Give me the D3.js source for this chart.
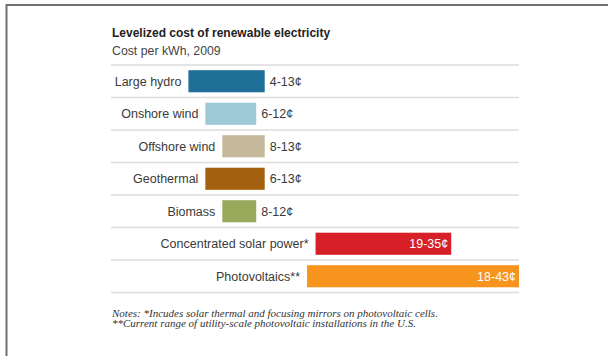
<!DOCTYPE html>
<html>
<head>
<meta charset="utf-8">
<script src="https://cdn.jsdelivr.net/npm/d3@7"></script>
<style>
  body { margin: 0; background: #fff; }
  svg { display: block; }
</style>
</head>
<body>
<svg id="chart" width="608" height="356"></svg>
<script>
const sources = ['Large hydro', 'Onshore wind', 'Offshore wind', 'Geothermal', 'Biomass', 'Concentrated solar power*', 'Photovoltaics**'];
const lowCost = [4, 6, 8, 6, 8, 19, 18];
const highCost = [13, 12, 13, 13, 12, 35, 43];
const barColors = ['#1f6f98', '#9ec8d5', '#c5b89b', '#a5600f', '#98a95b', '#d71f28', '#f7941d'];
const notes = [
  'Notes: *Incudes solar thermal and focusing mirrors on photovoltaic cells.',
  '**Current range of utility-scale photovoltaic installations in the U.S.'
];

const svg = d3.select('#chart');
const rows = sources.map((s, i) => ({ name: s, lo: lowCost[i], hi: highCost[i], color: barColors[i] }));

const x = d3.scaleLinear().domain([0, 43]).range([154.5, 519]);
const pad = 0.32;
const y = d3.scaleBand().domain(sources).range([65, 292.5]).paddingInner(pad).paddingOuter(pad / 2);
const gapTop = y.step() * pad / 2;

// frame
svg.append('line').attr('x1', 6.5).attr('x2', 608).attr('y1', 5).attr('y2', 5)
  .attr('stroke', '#6f6f6f').attr('stroke-width', 2);
svg.append('line').attr('x1', 6.5).attr('x2', 6.5).attr('y1', 4).attr('y2', 356)
  .attr('stroke', '#6f6f6f').attr('stroke-width', 2);

svg.append('text').attr('x', 112).attr('y', 37)
  .attr('font-family', 'Liberation Sans, Arial, sans-serif').attr('font-size', '12px')
  .attr('font-weight', 'bold').attr('fill', '#222')
  .text('Levelized cost of renewable electricity');
svg.append('text').attr('x', 112).attr('y', 54.5)
  .attr('font-family', 'Liberation Sans, Arial, sans-serif').attr('font-size', '12.3px')
  .attr('fill', '#444')
  .text('Cost per kWh, 2009');

// separators
const lineYs = [y(sources[0]) - gapTop].concat(sources.map(s => y(s) - gapTop + y.step()));
svg.selectAll('.sep')
  .data(lineYs)
  .enter()
  .append('line')
  .attr('class', 'sep')
  .attr('x1', 111).attr('x2', 519)
  .attr('y1', d => d).attr('y2', d => d)
  .attr('stroke', '#dcdcdc').attr('stroke-width', 1.5);

const row = svg.selectAll('.row')
  .data(rows)
  .enter()
  .append('g')
  .attr('class', 'row');

row.append('rect')
  .attr('x', d => x(d.lo))
  .attr('y', d => y(d.name))
  .attr('width', d => x(d.hi) - x(d.lo))
  .attr('height', y.bandwidth())
  .attr('fill', d => d.color);

row.append('text')
  .attr('x', d => x(d.lo) - 7)
  .attr('y', d => y(d.name) + y.bandwidth() / 2)
  .attr('dy', '0.35em')
  .attr('text-anchor', 'end')
  .attr('font-family', 'Liberation Sans, Arial, sans-serif')
  .attr('font-size', '12.5px')
  .attr('fill', '#3a3a3a')
  .text(d => d.name);

row.append('text')
  .attr('x', d => d.hi > 20 ? x(d.hi) - 3 : x(d.hi) + 5)
  .attr('y', d => y(d.name) + y.bandwidth() / 2)
  .attr('dy', '0.35em')
  .attr('text-anchor', d => d.hi > 20 ? 'end' : 'start')
  .attr('font-family', 'Liberation Sans, Arial, sans-serif')
  .attr('font-size', '12.5px')
  .attr('fill', d => d.hi > 20 ? '#fff' : '#3a3a3a')
  .text(d => d.lo + '-' + d.hi + '¢');

svg.selectAll('.note')
  .data(notes)
  .enter()
  .append('text')
  .attr('class', 'note')
  .attr('x', 112)
  .attr('y', (d, i) => 316.5 + i * 10.5)
  .attr('font-family', 'Liberation Serif, Times New Roman, serif')
  .attr('font-style', 'italic')
  .attr('font-size', '11px')
  .attr('fill', '#333')
  .text(d => d);
</script>
</body>
</html>
